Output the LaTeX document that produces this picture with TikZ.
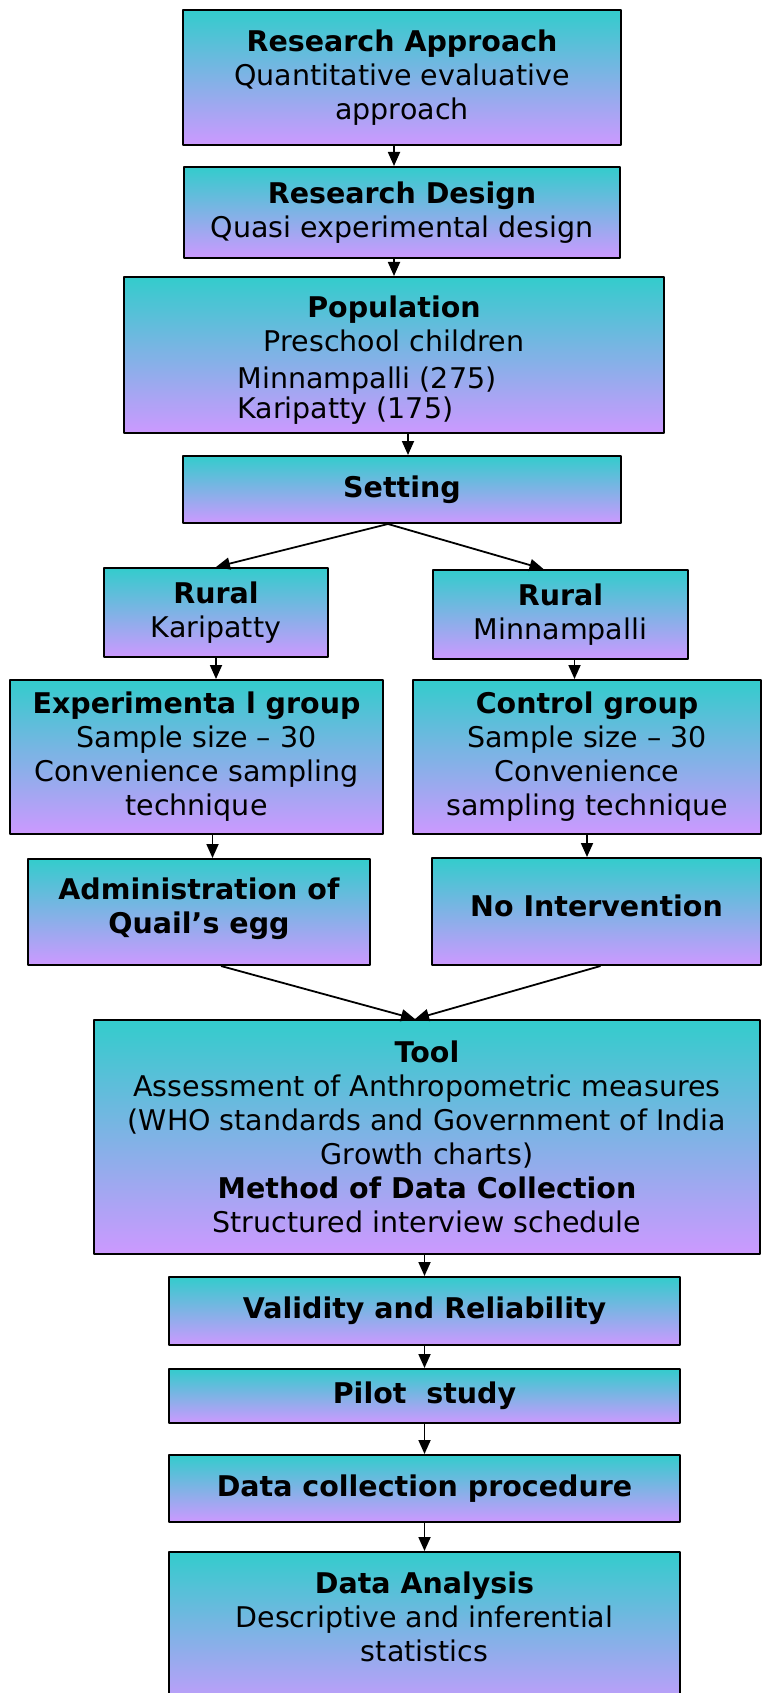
\documentclass[tikz,border=0pt]{standalone}
\usepackage{fontspec}
\setmainfont{DejaVu Sans}
\usetikzlibrary{arrows.meta}
\definecolor{boxtop}{RGB}{51,204,204}
\definecolor{boxbot}{RGB}{204,153,255}
\tikzset{
  box/.style={draw, line width=2pt, top color=boxtop, bottom color=boxbot,
    align=center, inner sep=0pt, font=\fontsize{28.5}{34}\selectfont},
  arr/.style={-{Triangle[length=14pt,width=12pt]}, line width=1.8pt}
}
\begin{document}
\begin{tikzpicture}[x=1pt, y=-1pt, line join=round]
  \useasboundingbox (0,0) rectangle (762,1693);
  \node[box, minimum width=438pt, minimum height=135pt] (appr) at (402,77.5)
    {\textbf{Research Approach}\\ Quantitative evaluative\\ approach};
  \node[box, minimum width=436pt, minimum height=91pt] (design) at (402,212.5)
    {\textbf{Research Design}\\ Quasi experimental design};
  \node[box, minimum width=540pt, minimum height=156pt] (pop) at (394,355)
    {\rule{0pt}{36pt}\textbf{Population}\\ Preschool children\\[3pt]
     \begin{tabular}[t]{@{}l@{}}Minnampalli (275)\\[-4pt] Karipatty (175)\end{tabular}\hspace*{54pt}};
  \node[box, minimum width=438pt, minimum height=67pt] (setting) at (402,489.5)
    {\textbf{Setting}};
  \node[box, minimum width=224pt, minimum height=89pt] (ruralk) at (216,612.5)
    {\textbf{Rural}\\ Karipatty};
  \node[box, minimum width=255pt, minimum height=89pt] (ruralm) at (560.5,614.5)
    {\textbf{Rural}\\ Minnampalli};
  \node[box, minimum width=373pt, minimum height=154pt] (expgrp) at (196.5,757)
    {\textbf{Experimenta l group}\\ Sample size -- 30\\ Convenience sampling\\ technique};
  \node[box, minimum width=348pt, minimum height=154pt] (ctrlgrp) at (587,757)
    {\textbf{Control group}\\ Sample size -- 30\\ Convenience\\ sampling technique};
  \node[box, minimum width=342pt, minimum height=106pt] (admin) at (199,912)
    {\textbf{Administration of}\\ \textbf{Quail’s egg}\\[-22pt]\mbox{}};
  \node[box, minimum width=329pt, minimum height=107pt] (nointv) at (596.5,911.5)
    {\textbf{No Intervention}\\[-22pt]\mbox{}};
  \node[box, minimum width=666pt, minimum height=234pt] (tool) at (427,1137)
    {\textbf{Tool}\\ Assessment of Anthropometric measures\\
     (WHO standards and Government of India\\ Growth charts)\\
     \textbf{Method of Data Collection}\\ Structured interview schedule};
  \node[box, minimum width=511pt, minimum height=68pt] (valid) at (424.5,1311)
    {\textbf{Validity and Reliability}};
  \node[box, minimum width=511pt, minimum height=54pt] (pilot) at (424.5,1396)
    {\textbf{Pilot\ \ study}};
  \node[box, minimum width=511pt, minimum height=67pt] (dcp) at (424.5,1488.5)
    {\textbf{Data collection procedure}};
  \node[box, minimum width=511pt, minimum height=163pt] (analysis) at (424.5,1633.5)
    {\textbf{Data Analysis}\\ Descriptive and inferential\\ statistics\\ \mbox{}};

  \draw[arr] ([xshift=-8pt]appr.south) -- ([xshift=-8pt]design.north);
  \draw[arr] ([xshift=-8pt]design.south) -- ([xshift=-8pt]design.south |- pop.north);
  \draw[arr] ([xshift=6pt]setting.north |- pop.south) -- ([xshift=6pt]setting.north);
  \draw[arr] ([xshift=-14pt]setting.south) -- (ruralk.north);
  \draw[arr] ([xshift=-14pt]setting.south) -- ([xshift=-17pt]ruralm.north);
  \draw[arr] (ruralk.south) -- (ruralk.south |- expgrp.north);
  \draw[arr] ([xshift=14pt]ruralm.south) -- ([xshift=14pt]ruralm.south |- ctrlgrp.north);
  \draw[arr] ([xshift=16pt]expgrp.south) -- ([xshift=16pt]expgrp.south |- admin.north);
  \draw[arr] (ctrlgrp.south) -- (ctrlgrp.south |- nointv.north);
  \draw[arr] ([xshift=22pt]admin.south) -- ([xshift=-12pt]tool.north);
  \draw[arr] ([xshift=4pt]nointv.south) -- ([xshift=-12pt]tool.north);
  \foreach \a/\b in {tool/valid, valid/pilot, pilot/dcp, dcp/analysis}
    \draw[arr] (\b.north |- \a.south) -- (\b.north);
\end{tikzpicture}
\end{document}
